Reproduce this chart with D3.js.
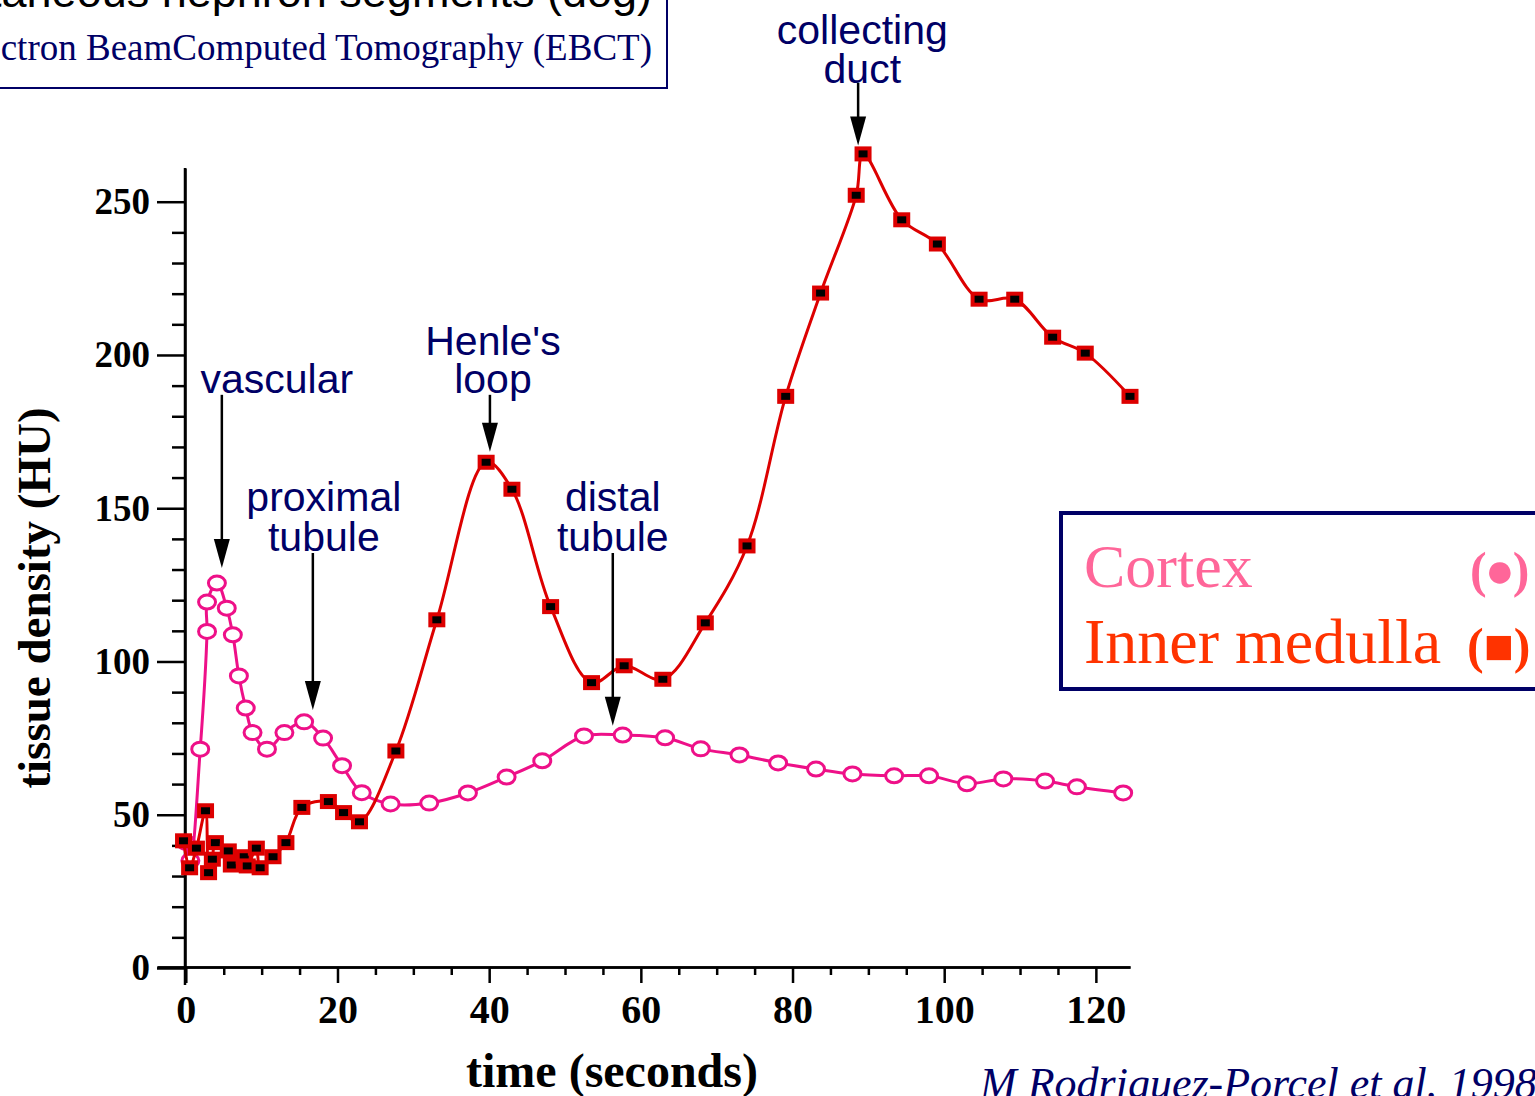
<!DOCTYPE html>
<html lang="en">
<head>
    <meta charset="UTF-8">
    <title>Tissue density</title>
    <script src="https://d3js.org/d3.v7.min.js" charset="utf-8"></script>
    <style>
        body { margin: 0; background: #fff; }
    </style>
</head>
<body>
<script>
    // data (time in seconds, tissue density in HU)
    var cortexTime = [0, 0.6, 1.9, 2.8, 2.8, 4.1, 5.4, 6.2, 7.0, 7.9, 8.8, 10.7, 13.0, 15.6, 18.1, 20.6, 23.2,
        27.0, 32.1, 37.2, 42.3, 47.0, 52.5, 57.6, 63.2, 67.9, 73.0, 78.1, 83.1, 87.9, 93.4, 98.0, 103.0,
        107.8, 113.3, 117.5, 123.6];
    var cortexHU = [41, 35, 71.4, 109.8, 119.4, 125.6, 117.4, 108.7, 95.3, 84.8, 76.8, 71.4, 76.8, 80.3, 75.0,
        66.0, 57.2, 53.5, 53.8, 57.1, 62.3, 67.6, 75.7, 76.0, 75.1, 71.5, 69.5, 66.9, 64.9, 63.3, 62.7, 62.7,
        60.1, 61.7, 61.0, 59.1, 57.1];

    var medullaTime = [-0.3, 0.5, 1.4, 2.6, 3.0, 3.5, 3.9, 5.6, 6.0, 7.7, 8.1, 9.3, 9.8, 11.5, 13.2, 15.3,
        18.8, 20.8, 22.9, 27.7, 33.1, 39.6, 43.0, 48.1, 53.5, 57.8, 62.9, 68.5, 74.0, 79.1, 83.7, 88.4, 89.3,
        94.4, 99.1, 104.6, 109.3, 114.3, 118.6, 124.5];
    var medullaHU = [41.5, 32.7, 39.1, 51.3, 31.1, 35.5, 40.9, 38.2, 33.6, 36.3, 33.3, 39.1, 32.7, 36.3, 40.9,
        52.4, 54.3, 50.7, 47.7, 70.8, 113.6, 165.0, 156.2, 117.9, 93.1, 98.6, 94.2, 112.6, 137.7, 186.5,
        220.2, 252.1, 265.6, 244.1, 236.2, 218.2, 218.2, 205.8, 200.6, 186.5];

    var xTicks = [0, 20, 40, 60, 80, 100, 120];
    var yTicks = [0, 50, 100, 150, 200, 250];

    // annotation labels, arrow positions given in data units
    var labels = [
        {lines: ["vascular"], tx: 12.0, ty: [187.7], ax: 4.75, tail: 187, tip: 130.5},
        {lines: ["proximal", "tubule"], tx: 18.2, ty: [149.2, 136.1], ax: 16.75, tail: 135.4, tip: 84.2},
        {lines: ["Henle's", "loop"], tx: 40.5, ty: [200.1, 187.7], ax: 40.1, tail: 187, tip: 168.4},
        {lines: ["distal", "tubule"], tx: 56.3, ty: [149.2, 136.1], ax: 56.3, tail: 135.4, tip: 79},
        {lines: ["collecting", "duct"], tx: 89.2, ty: [301.6, 288.8], ax: 88.65, tail: 288.8, tip: 268.3}
    ];

    var width = 1535, height = 1096;
    var navy = "#000066", pink = "#ee1088", red = "#dd0000";

    var svg = d3.select("body").append("svg")
        .attr("width", width)
        .attr("height", height)
        .style("font-family", "'Liberation Serif', 'Times New Roman', serif");

    var x = d3.scaleLinear().domain([-3.8, 124.5]).range([157, 1130]);
    var y = d3.scaleLinear().domain([0, 261]).range([968, 168]);

    // title box (cut off at top-left)
    svg.append("rect")
        .attr("x", -10).attr("y", -10)
        .attr("width", 677).attr("height", 98)
        .attr("fill", "none").attr("stroke", navy).attr("stroke-width", 2);
    svg.append("text")
        .attr("x", 652).attr("y", 7)
        .attr("text-anchor", "end")
        .style("font-family", "'Liberation Sans', Arial, sans-serif")
        .style("font-size", "45px")
        .attr("fill", "#000")
        .text("Simultaneous nephron segments (dog)");
    svg.append("text")
        .attr("x", 652).attr("y", 60)
        .attr("text-anchor", "end")
        .style("font-size", "37px")
        .attr("fill", navy)
        .text("Electron BeamComputed Tomography (EBCT)");

    // x axis
    var xMinor = d3.range(5, 125, 5).filter(function(d){ return d % 20 !== 0; });
    svg.append("g")
        .attr("transform", "translate(0,967)")
        .call(d3.axisBottom(x).tickValues(xMinor).tickSize(8).tickSizeOuter(0).tickFormat(""))
        .call(function(g){ g.selectAll("line, path").attr("stroke", "#000").attr("stroke-width", 2.5); });
    svg.append("g")
        .attr("transform", "translate(0,967)")
        .call(d3.axisBottom(x).tickValues(xTicks).tickSize(16).tickSizeOuter(0).tickPadding(12))
        .call(function(g){
            g.selectAll("line, path").attr("stroke", "#000").attr("stroke-width", 2.5);
            g.selectAll("text")
                .attr("fill", "#000")
                .style("font-family", "'Liberation Serif', 'Times New Roman', serif")
                .style("font-size", "40px")
                .style("font-weight", "bold");
        });

    // y axis
    var yMinor = d3.range(10, 260, 10).filter(function(d){ return d % 50 !== 0; });
    svg.append("g")
        .attr("transform", "translate(185,0)")
        .call(d3.axisLeft(y).tickValues(yMinor).tickSize(13).tickSizeOuter(0).tickFormat(""))
        .call(function(g){ g.selectAll("line, path").attr("stroke", "#000").attr("stroke-width", 2.5); });
    svg.append("g")
        .attr("transform", "translate(185,0)")
        .call(d3.axisLeft(y).tickValues(yTicks).tickSize(28).tickSizeOuter(0).tickPadding(7))
        .call(function(g){
            g.select(".domain").remove();
            g.selectAll("line").attr("stroke", "#000").attr("stroke-width", 2.5);
            g.selectAll("text")
                .attr("fill", "#000")
                .style("font-family", "'Liberation Serif', 'Times New Roman', serif")
                .style("font-size", "37px")
                .style("font-weight", "bold");
        });
    // y axis line reaching below the x axis
    svg.append("line")
        .attr("x1", 185).attr("x2", 185)
        .attr("y1", y(261)).attr("y2", 985)
        .attr("stroke", "#000").attr("stroke-width", 2.5);

    // axis titles
    svg.append("text")
        .attr("x", 612).attr("y", 1087)
        .attr("text-anchor", "middle")
        .style("font-size", "48px").style("font-weight", "bold")
        .text("time (seconds)");
    svg.append("text")
        .attr("transform", "translate(50,598) rotate(-90)")
        .attr("text-anchor", "middle")
        .style("font-size", "47px").style("font-weight", "bold")
        .text("tissue density (HU)");

    var line = d3.line()
        .x(function(d){ return x(d[0]); })
        .y(function(d){ return y(d[1]); })
        .curve(d3.curveCatmullRom.alpha(0.5));

    var cortex = cortexTime.map(function(t, i){ return [t, cortexHU[i]]; });
    var medulla = medullaTime.map(function(t, i){ return [t, medullaHU[i]]; });

    // cortex
    svg.append("path")
        .datum(cortex)
        .attr("d", line)
        .attr("fill", "none").attr("stroke", pink).attr("stroke-width", 3);
    svg.selectAll(".cdot").data(cortex).enter()
        .append("ellipse")
        .attr("class", "cdot")
        .attr("cx", function(d){ return x(d[0]); })
        .attr("cy", function(d){ return y(d[1]); })
        .attr("rx", 8.5).attr("ry", 7)
        .attr("fill", "#fff").attr("stroke", pink).attr("stroke-width", 3);

    // inner medulla
    svg.append("path")
        .datum(medulla)
        .attr("d", line)
        .attr("fill", "none").attr("stroke", red).attr("stroke-width", 3);
    svg.selectAll(".mdot").data(medulla).enter()
        .append("rect")
        .attr("class", "mdot")
        .attr("x", function(d){ return x(d[0]) - 6.5; })
        .attr("y", function(d){ return y(d[1]) - 5.5; })
        .attr("width", 13).attr("height", 11)
        .attr("fill", "#000").attr("stroke", red).attr("stroke-width", 4);

    // annotations with arrows
    labels.forEach(function(a){
        a.lines.forEach(function(s, i){
            svg.append("text")
                .attr("x", x(a.tx)).attr("y", y(a.ty[i]))
                .attr("text-anchor", "middle")
                .style("font-family", "'Liberation Sans', Arial, sans-serif")
                .style("font-size", "41px")
                .attr("fill", navy)
                .text(s);
        });
        var ax = x(a.ax), tip = y(a.tip);
        svg.append("line")
            .attr("x1", ax).attr("x2", ax)
            .attr("y1", y(a.tail)).attr("y2", tip - 20)
            .attr("stroke", "#000").attr("stroke-width", 2.5);
        svg.append("path")
            .attr("d", "M" + (ax - 8) + "," + (tip - 29) + "L" + (ax + 8) + "," + (tip - 29) + "L" + ax + "," + tip + "Z")
            .attr("fill", "#000");
    });

    // legend
    svg.append("rect")
        .attr("x", 1061).attr("y", 513)
        .attr("width", 500).attr("height", 176)
        .attr("fill", "none").attr("stroke", navy).attr("stroke-width", 4);
    svg.append("text")
        .attr("x", 1084).attr("y", 587)
        .style("font-size", "62px")
        .attr("fill", "#ff6699")
        .text("Cortex");
    svg.append("text")
        .attr("x", 1470).attr("y", 587)
        .style("font-size", "50px").style("font-weight", "bold")
        .attr("fill", "#ff6699")
        .text("(\u25CF)")
        .style("letter-spacing", "-2px");
    svg.append("text")
        .attr("x", 1084).attr("y", 663)
        .style("font-size", "64px")
        .attr("fill", "#ff3300")
        .text("Inner medulla");
    svg.append("text")
        .attr("x", 1467).attr("y", 663)
        .style("font-size", "50px").style("font-weight", "bold")
        .attr("fill", "#ff3300")
        .text("(\u25A0)");

    // citation
    svg.append("text")
        .attr("x", 980).attr("y", 1098)
        .style("font-size", "44px").style("font-style", "italic")
        .attr("fill", navy)
        .text("M Rodriguez-Porcel et al. 1998");
</script>
</body>
</html>
